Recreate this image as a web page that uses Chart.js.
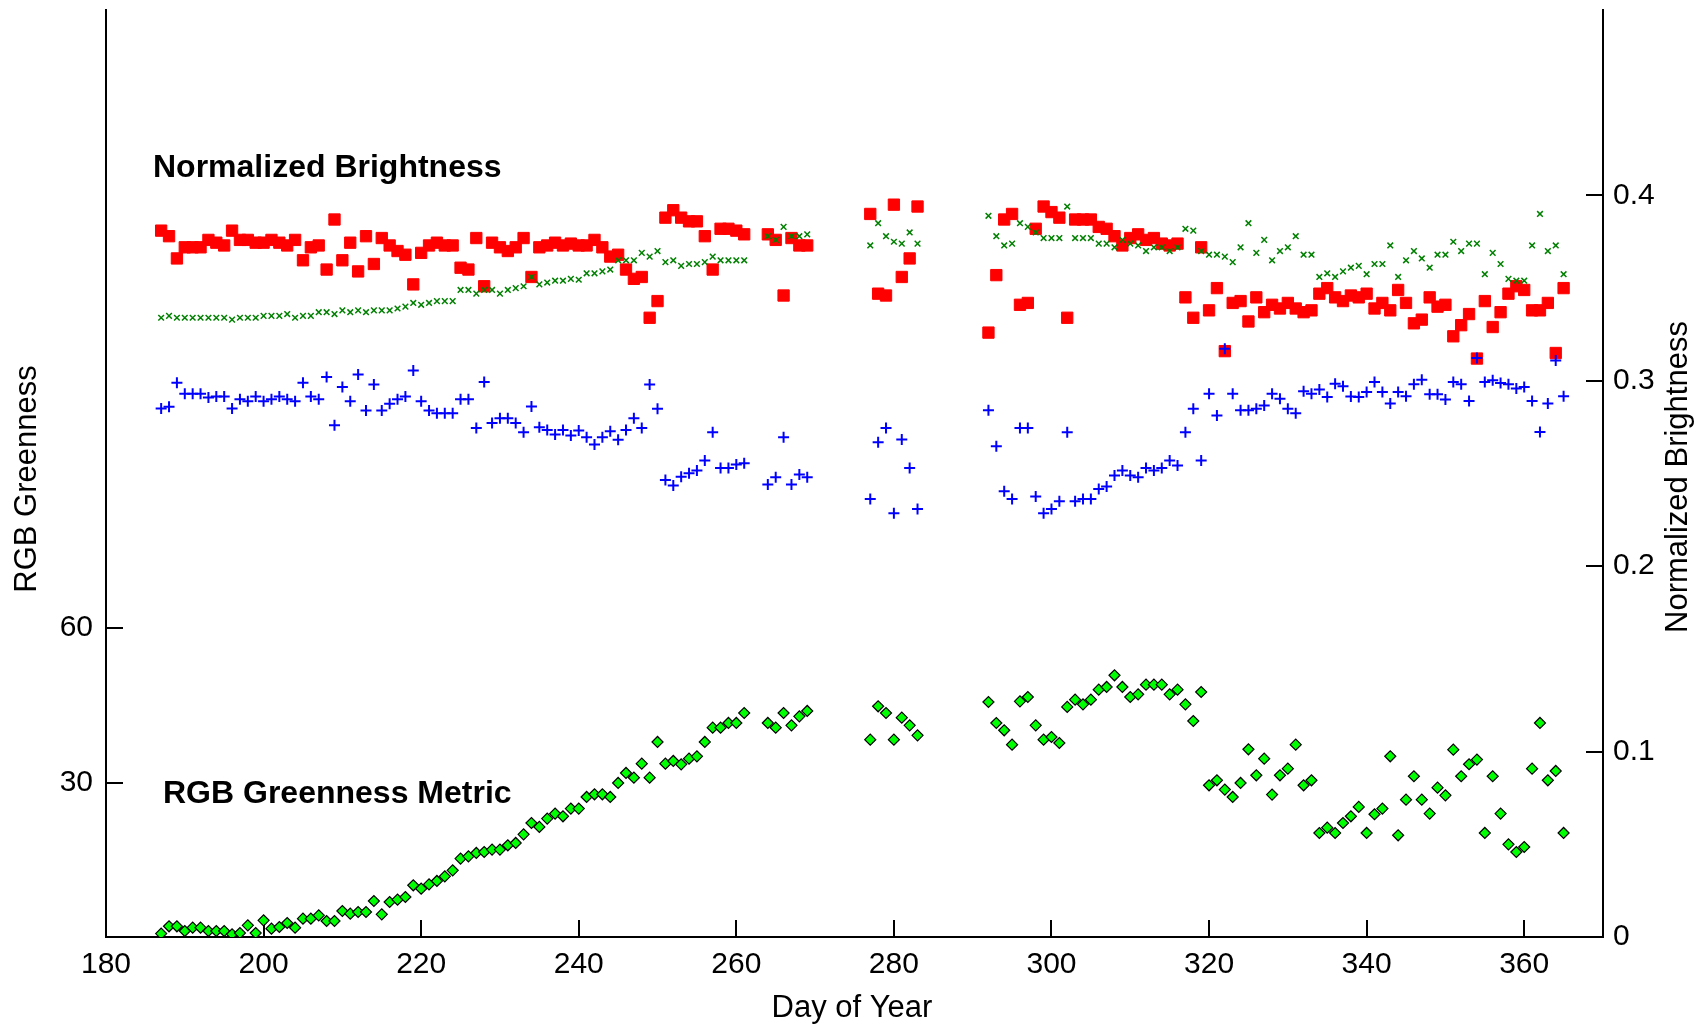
<!DOCTYPE html>
<html>
<head>
<meta charset="utf-8">
<script src="https://cdn.jsdelivr.net/npm/chart.js@4.4.1/dist/chart.umd.min.js"></script>
<style>
  html, body { margin: 0; padding: 0; background: #ffffff; }
  #wrap { width: 1703px; height: 1024px; }
</style>
</head>
<body>
<div id="wrap"><canvas id="c" width="1703" height="1024"></canvas></div>
<script>
// ---- data (day of year) ----
const days = [
  187,188,189,190,191,192,193,194,195,196,
  197,198,199,200,201,202,203,204,205,206,
  207,208,209,210,211,212,213,214,215,216,
  217,218,219,220,221,222,223,224,225,226,
  227,228,229,230,231,232,233,234,235,236,
  237,238,239,240,241,242,243,244,245,246,
  247,248,249,250,251,252,253,254,255,256,
  257,258,259,260,261,
  264,265,266,267,268,269,
  277,278,279,280,281,282,283,
  292,293,294,295,296,297,298,299,300,301,
  302,303,304,305,306,307,308,309,310,311,
  312,313,314,315,316,317,318,319,320,321,
  322,323,324,325,326,327,328,329,330,331,
  332,333,334,335,336,337,338,339,340,341,
  342,343,344,345,346,347,348,349,350,351,
  352,353,354,355,356,357,358,359,360,361,
  362,363,364,365
];

// Normalized brightness – red channel (squares)
const redBrightness = [
  .381,.378,.366,.372,.372,.372,.376,.3745,.373,.381,
  .376,.376,.3745,.3745,.376,.3745,.373,.376,.365,.372,
  .373,.360,.387,.365,.3745,.359,.378,.363,.377,.373,
  .370,.368,.352,.369,.373,.3745,.373,.373,.361,.360,
  .377,.351,.3745,.372,.370,.372,.377,.356,.372,.373,
  .3745,.373,.374,.373,.373,.376,.372,.367,.368,.360,
  .355,.356,.334,.343,.388,.392,.388,.386,.386,.378,
  .360,.382,.382,.381,.379,
  .379,.376,.346,.377,.373,.373,
  .390,.347,.346,.395,.356,.366,.394,
  .326,.357,.387,.390,.341,.342,.382,.394,.391,.388,
  .334,.387,.387,.387,.383,.382,.378,.373,.377,.379,
  .376,.377,.374,.373,.374,.345,.334,.372,.338,.350,
  .316,.342,.343,.332,.345,.337,.341,.339,.342,.339,
  .337,.338,.347,.350,.345,.343,.346,.345,.347,.339,
  .342,.338,.349,.342,.331,.333,.345,.340,.341,.324,
  .330,.336,.312,.343,.329,.337,.347,.351,.349,.338,
  .338,.342,.315,.350
];

// Normalized brightness – green channel (x markers)
const greenBrightness = [
  .334,.335,.334,.334,.334,.334,.334,.334,.334,.333,
  .334,.334,.334,.335,.335,.335,.336,.334,.335,.335,
  .337,.337,.336,.338,.337,.338,.337,.338,.338,.338,
  .339,.340,.342,.341,.342,.343,.343,.343,.349,.349,
  .347,.349,.349,.347,.349,.350,.351,.356,.352,.353,
  .354,.354,.355,.3545,.358,.358,.359,.360,.365,.365,
  .365,.369,.367,.370,.364,.365,.362,.363,.363,.364,
  .367,.365,.365,.365,.365,
  .378,.376,.383,.378,.378,.379,
  .373,.385,.378,.375,.374,.380,.374,
  .389,.378,.373,.374,.385,.383,.380,.377,.377,.377,
  .394,.377,.377,.377,.374,.374,.372,.376,.374,.373,
  .370,.372,.372,.370,.372,.382,.381,.370,.368,.368,
  .367,.364,.372,.385,.369,.376,.365,.370,.372,.378,
  .368,.368,.356,.358,.356,.359,.361,.362,.3575,.363,
  .363,.373,.356,.365,.370,.366,.361,.368,.368,.375,
  .370,.374,.374,.3575,.369,.363,.355,.354,.354,.373,
  .390,.370,.373,.3575
];

// Normalized brightness – blue channel (+ markers)
const blueBrightness = [
  .285,.286,.299,.293,.293,.293,.291,.2915,.2915,.285,
  .290,.289,.2915,.289,.290,.2915,.290,.289,.299,.2915,
  .290,.302,.276,.2966,.289,.3034,.284,.298,.284,.2876,
  .290,.2915,.3056,.289,.284,.2825,.2825,.2825,.290,.290,
  .2746,.2993,.2773,.2798,.2798,.2773,.2723,.2862,.275,.2735,
  .271,.2735,.2705,.2732,.2696,.2657,.2696,.2728,.2682,.2735,
  .2798,.2746,.298,.2849,.2465,.2435,.2483,.2501,.2516,.257,
  .2723,.253,.253,.2548,.2555,
  .244,.248,.2696,.244,.2494,.248,
  .2363,.2669,.2746,.2286,.2683,.253,.2309,
  .2841,.2647,.2404,.2363,.2746,.2746,.2376,.2286,.2309,.235,
  .2723,.235,.2363,.2363,.2417,.243,.2489,.2516,.2489,.248,
  .253,.2516,.253,.257,.2543,.2723,.2849,.257,.293,.2813,
  .3173,.293,.2841,.2841,.2849,.2867,.293,.2903,.2849,.2825,
  .2943,.293,.2953,.2912,.2984,.297,.2915,.2912,.294,.2994,
  .294,.2877,.294,.2917,.2981,.3006,.2927,.2927,.2899,.2994,
  .2981,.2891,.3123,.2994,.3003,.2988,.2981,.2958,.2967,.2891,
  .2724,.2877,.311,.2917
];

// RGB greenness metric (diamonds, left axis)
const rgbGreenness = [
  .66,2.08,2.08,1.17,1.81,1.81,1.17,1.17,1.17,.53,
  .78,2.27,.78,3.24,1.62,1.94,2.72,1.81,3.56,3.56,
  4.21,3.11,3.11,5.05,4.53,4.85,4.85,6.99,4.40,6.80,
  7.25,7.77,10.04,9.39,10.23,10.88,11.78,12.95,15.22,15.67,
  16.32,16.51,16.97,16.97,17.81,18.26,19.94,22.14,21.37,22.99,
  23.96,23.44,24.93,24.93,27.19,27.71,27.71,27.19,29.91,31.85,
  30.94,33.66,30.94,37.87,33.66,34.18,33.53,34.63,35.08,37.87,
  40.65,40.65,41.56,41.56,43.50,
  41.56,40.65,43.50,41.10,42.85,43.89,
  38.32,44.80,43.50,38.32,42.59,41.10,39.16,
  45.63,41.55,40.14,37.35,45.76,46.60,41.10,38.32,38.84,37.67,
  44.67,46.09,45.18,46.09,48.03,48.55,50.82,48.55,46.60,47.12,
  49.00,49.00,49.00,47.12,48.03,45.18,41.94,47.57,29.46,30.43,
  28.62,27.19,29.91,36.45,31.40,34.63,27.65,31.40,32.69,37.35,
  29.46,30.43,20.19,21.23,20.19,22.14,23.44,25.26,20.20,23.83,
  24.93,35.09,19.75,26.67,31.21,26.67,23.96,29.00,27.51,36.38,
  31.21,33.54,34.45,20.20,31.21,23.96,18.00,16.51,17.48,32.69,
  41.56,30.43,32.24,20.20
];

// tick labels
const dayTicks = [180,200,220,240,260,280,300,320,340,360];
const greennessTicks = [30,60];
const brightnessTicks = [0,0.1,0.2,0.3,0.4];

// text
const xTitle = 'Day of Year';
const yLeftTitle = 'RGB Greenness';
const yRightTitle = 'Normalized Brightness';
const noteBrightness = 'Normalized Brightness';
const noteGreenness = 'RGB Greenness Metric';

// ---- chart ----
const FONT = '"Liberation Sans", Arial, Helvetica, sans-serif';
const pts = vals => days.map((d, i) => ({x: d, y: vals[i]}));

const inwardTicks = {
  id: 'inwardTicks',
  beforeDatasetsDraw(chart) {
    const {ctx, chartArea: a, scales} = chart;
    const L = 17;
    ctx.save();
    ctx.strokeStyle = '#000';
    ctx.lineWidth = 2;
    ctx.beginPath();
    scales.x.ticks.forEach(t => {
      const p = Math.round(scales.x.getPixelForValue(t.value));
      ctx.moveTo(p, a.bottom); ctx.lineTo(p, a.bottom - L);
    });
    scales.yG.ticks.forEach(t => {
      const p = Math.round(scales.yG.getPixelForValue(t.value));
      ctx.moveTo(a.left, p); ctx.lineTo(a.left + L, p);
    });
    scales.yB.ticks.forEach(t => {
      const p = Math.round(scales.yB.getPixelForValue(t.value));
      ctx.moveTo(a.right, p); ctx.lineTo(a.right - L, p);
    });
    ctx.stroke();
    ctx.restore();
  },
  afterDraw(chart) {
    const {ctx} = chart;
    ctx.save();
    ctx.fillStyle = '#000';
    ctx.textBaseline = 'alphabetic';
    // annotations
    ctx.font = 'bold 32px ' + FONT;
    ctx.textAlign = 'left';
    ctx.fillText(noteBrightness, 153, 177);
    ctx.fillText(noteGreenness, 163, 803);
    // axis titles
    ctx.font = '31px ' + FONT;
    ctx.textAlign = 'center';
    ctx.fillText(xTitle, 852, 1017);
    ctx.save();
    ctx.translate(36, 479);
    ctx.rotate(-Math.PI / 2);
    ctx.fillText(yLeftTitle, 0, 0);
    ctx.restore();
    ctx.save();
    ctx.translate(1687, 477);
    ctx.rotate(-Math.PI / 2);
    ctx.fillText(yRightTitle, 0, 0);
    ctx.restore();
    ctx.restore();
  }
};

const tickFont = {family: FONT, size: 30};
const fmt = v => String(Math.round(v * 10) / 10);

new Chart(document.getElementById('c'), {
  type: 'scatter',
  data: {
    datasets: [
      {
        label: 'Red brightness', data: pts(redBrightness), yAxisID: 'yB', order: 4,
        pointStyle: 'rect', pointRadius: 8, pointBorderWidth: 1,
        backgroundColor: '#ff0000', borderColor: '#ff0000'
      },
      {
        label: 'Green brightness', data: pts(greenBrightness), yAxisID: 'yB', order: 3,
        pointStyle: 'crossRot', pointRadius: 4, pointBorderWidth: 1.5,
        backgroundColor: '#008000', borderColor: '#008000'
      },
      {
        label: 'Blue brightness', data: pts(blueBrightness), yAxisID: 'yB', order: 2,
        pointStyle: 'cross', pointRadius: 5.5, pointBorderWidth: 2,
        backgroundColor: '#0000ff', borderColor: '#0000ff'
      },
      {
        label: 'RGB greenness', data: pts(rgbGreenness), yAxisID: 'yG', order: 1,
        pointStyle: 'rectRot', pointRadius: 5.5, pointBorderWidth: 1.2,
        backgroundColor: '#00ff00', borderColor: '#000000'
      }
    ]
  },
  options: {
    responsive: false,
    animation: false,
    events: [],
    layout: {padding: {top: 10, left: 0, right: 0, bottom: 0}},
    plugins: {legend: {display: false}, tooltip: {enabled: false}},
    scales: {
      x: {
        type: 'linear', position: 'bottom', min: 180, max: 370,
        grid: {display: false, drawTicks: false},
        border: {display: true, color: '#000', width: 2},
        ticks: {font: tickFont, color: '#000', padding: 10, maxRotation: 0, autoSkip: false, callback: fmt},
        afterBuildTicks: s => { s.ticks = dayTicks.map(v => ({value: v})); },
        afterFit: s => { s.height = 87; s.paddingLeft = 0; s.paddingRight = 0; }
      },
      yG: {
        type: 'linear', position: 'left', min: 0, max: 180,
        grid: {display: false, drawTicks: false},
        border: {display: true, color: '#000', width: 2},
        ticks: {font: tickFont, color: '#000', padding: 13, callback: fmt},
        afterBuildTicks: s => { s.ticks = greennessTicks.map(v => ({value: v})); },
        afterFit: s => { s.width = 106; s.paddingTop = 0; s.paddingBottom = 0; }
      },
      yB: {
        type: 'linear', position: 'right', min: 0, max: 0.5,
        grid: {display: false, drawTicks: false},
        border: {display: true, color: '#000', width: 2},
        ticks: {font: tickFont, color: '#000', padding: 10, callback: fmt},
        afterBuildTicks: s => { s.ticks = brightnessTicks.map(v => ({value: v})); },
        afterFit: s => { s.width = 100; s.paddingTop = 0; s.paddingBottom = 0; }
      }
    }
  },
  plugins: [inwardTicks]
});
</script>
</body>
</html>
